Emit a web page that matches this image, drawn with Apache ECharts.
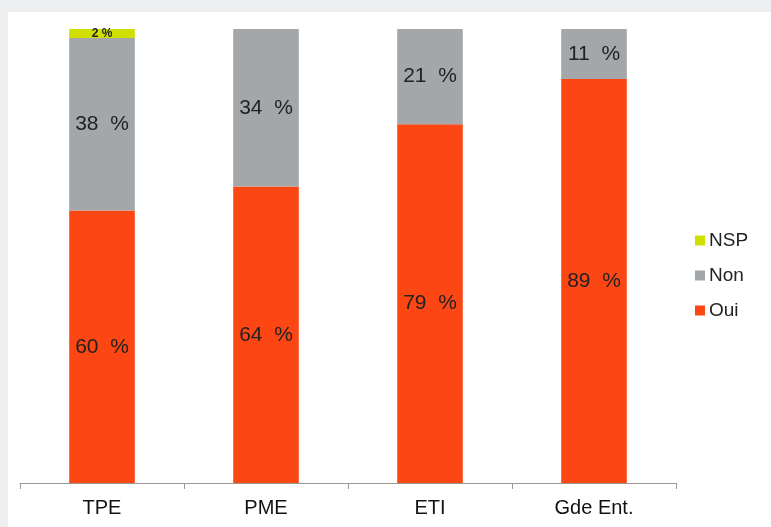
<!DOCTYPE html>
<html>
<head>
<meta charset="utf-8">
<script src="https://cdn.jsdelivr.net/npm/echarts@6/dist/echarts.min.js"></script>
<style>
html,body{margin:0;padding:0;width:771px;height:527px;background:#eceef0;overflow:hidden;}
#c{position:absolute;left:8px;top:12px;width:763px;height:515px;background:#ffffff;}
</style>
</head>
<body>
<div id="c"></div>
<script>
const categories = ['TPE', 'PME', 'ETI', 'Gde Ent.'];
const oui = [60, 64, 79, 89];
const non = [38, 34, 21, 11];
const nsp = [2, 0, 0, 0];
const seriesNames = ['Oui', 'Non', 'NSP'];
const colors = ['#fc4614', '#a4a7aa', '#cfe000'];

const totals = categories.map((_, i) => oui[i] + non[i] + nsp[i]);
function share(arr) {
  return arr.map((v, i) => ({ value: v / totals[i] * 100, raw: v }));
}
const chart = echarts.init(document.getElementById('c'));
const mk = (name, arr, color, small) => ({
  name: name,
  type: 'bar',
  stack: 'total',
  barWidth: '40%',
  data: share(arr),
  itemStyle: { color: color },
  label: {
    show: true,
    position: 'inside',
    color: '#222',
    fontFamily: 'Liberation Sans, Arial, sans-serif',
    fontSize: small ? 12 : 21,
    fontWeight: small ? 'bold' : 'normal',
    formatter: p => p.data.raw ? (small ? p.data.raw + ' %' : p.data.raw + '  %') : ''
  }
});
chart.setOption({
  animation: false,
  textStyle: { fontFamily: 'Liberation Sans, Arial, sans-serif' },
  grid: { left: 12, right: 95, top: 17, bottom: 44 },
  legend: {
    data: ['NSP', 'Non', 'Oui'],
    orient: 'vertical',
    left: 682,
    top: 214,
    itemWidth: 10,
    itemHeight: 10,
    itemGap: 16,
    icon: 'rect',
    textStyle: { fontSize: 19, color: '#222', padding: [0, 0, 0, -1] }
  },
  xAxis: {
    type: 'category',
    data: categories,
    axisLine: { lineStyle: { color: '#999', width: 1 } },
    axisTick: { show: true, length: 6, lineStyle: { color: '#999' } },
    axisLabel: { color: '#111', fontSize: 20, margin: 15 }
  },
  yAxis: {
    type: 'value',
    min: 0,
    max: 100,
    show: false,
    splitLine: { show: false }
  },
  series: [
    mk('Oui', oui, colors[0], false),
    mk('Non', non, colors[1], false),
    mk('NSP', nsp, colors[2], true)
  ]
});
</script>
</body>
</html>
